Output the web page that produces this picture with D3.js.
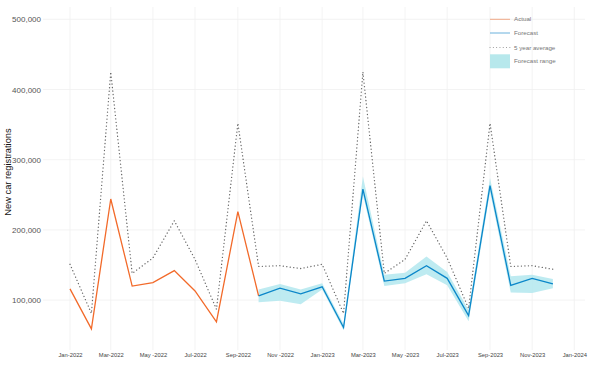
<!DOCTYPE html>
<html>
<head>
<meta charset="utf-8">
<script src="https://cdn.jsdelivr.net/npm/d3@7"></script>
<style>
  body { margin: 0; background: #fff; }
  text { font-family: "Liberation Sans", Arial, sans-serif; }
</style>
</head>
<body>
<div id="chart"></div>
<script>
var width = 602, height = 370;

// monthly data
var actualMonths = ["2022-01","2022-02","2022-03","2022-04","2022-05","2022-06","2022-07","2022-08","2022-09","2022-10"];
var actualValues = [116000, 59000, 244000, 120000, 125000, 142000, 113000, 69000, 226000, 106000];

var forecastMonths = ["2022-10","2022-11","2022-12","2023-01","2023-02","2023-03","2023-04","2023-05","2023-06","2023-07","2023-08","2023-09","2023-10","2023-11","2023-12"];
var forecastValues = [106000, 117000, 109000, 119000, 61000, 258000, 127000, 131000, 149000, 131000, 78000, 263000, 121000, 131000, 123000];
var forecastLower  = [97000, 99000, 94000, 115000, 57000, 250000, 120000, 124000, 137000, 121000, 70000, 254000, 111000, 110000, 117000];
var forecastUpper  = [115000, 123000, 115000, 124000, 66000, 276000, 136000, 139000, 162000, 140000, 86000, 274000, 134000, 136000, 130000];

var avgMonths = ["2022-01","2022-02","2022-03","2022-04","2022-05","2022-06","2022-07","2022-08","2022-09","2022-10","2022-11","2022-12",
                 "2023-01","2023-02","2023-03","2023-04","2023-05","2023-06","2023-07","2023-08","2023-09","2023-10","2023-11","2023-12"];
var avgValues = [151000, 81000, 425000, 138000, 160000, 213000, 158000, 87000, 352000, 148000, 149000, 145000,
                 151000, 81000, 425000, 138000, 158000, 213000, 160000, 88000, 352000, 148000, 149000, 144000];

var yTicks = [100000, 200000, 300000, 400000, 500000];
var xTickMonths = ["2022-01","2022-03","2022-05","2022-07","2022-09","2022-11","2023-01","2023-03","2023-05","2023-07","2023-09","2023-11","2024-01"];
var xTickLabels = ["Jan-2022","Mar-2022","May -2022","Jul-2022","Sep-2022","Nov -2022","Jan-2023","Mar-2023","May -2023","Jul-2023","Sep-2023","Nov-2023","Jan-2024"];

var legendLabels = ["Actual", "Forecast", "5 year average", "Forecast range"];

var parse = d3.timeParse("%Y-%m");

var x = d3.scaleTime()
    .domain([parse("2022-01"), parse("2024-01")])
    .range([70, 574.3]);

var y = d3.scaleLinear()
    .domain([0, 500000])
    .range([370.3, 19.3]);

var svg = d3.select("#chart")
    .append("svg")
    .attr("width", width)
    .attr("height", height);

// grid
var grid = svg.append("g").attr("class", "grid");
grid.selectAll("line.h")
    .data(yTicks)
    .enter()
    .append("line")
    .attr("x1", 43).attr("x2", 585)
    .attr("y1", d => y(d)).attr("y2", d => y(d))
    .style("stroke", "#f0f0f0")
    .style("stroke-width", 0.8);

grid.selectAll("line.v")
    .data(xTickMonths)
    .enter()
    .append("line")
    .attr("x1", d => x(parse(d))).attr("x2", d => x(parse(d)))
    .attr("y1", 7).attr("y2", 350)
    .style("stroke", "#f0f0f0")
    .style("stroke-width", 0.8);

// axes (labels only)
var yAxis = svg.append("g")
    .attr("transform", "translate(43,0)")
    .call(d3.axisLeft(y).tickValues(yTicks).tickSize(0).tickPadding(2).tickFormat(d3.format(",")));
yAxis.select(".domain").remove();
yAxis.selectAll("text")
    .style("font-size", "8px")
    .style("fill", "#555");

var xAxis = svg.append("g")
    .attr("transform", "translate(0,350)")
    .call(d3.axisBottom(x).tickValues(xTickMonths.map(parse)).tickSize(0).tickPadding(3)
      .tickFormat((d, i) => xTickLabels[i]));
xAxis.select(".domain").remove();
xAxis.selectAll("text")
    .style("font-size", "5.8px")
    .style("fill", "#444");

svg.append("text")
    .attr("transform", "translate(11,172) rotate(-90)")
    .attr("text-anchor", "middle")
    .style("font-size", "9.3px")
    .style("fill", "#111")
    .text("New car registrations");

// forecast ribbon
var fcData = forecastMonths.map((m, i) => ({ date: parse(m), v: forecastValues[i], lo: forecastLower[i], hi: forecastUpper[i] }));

svg.append("path")
    .datum(fcData)
    .attr("d", d3.area().x(d => x(d.date)).y0(d => y(d.lo)).y1(d => y(d.hi)))
    .style("fill", "#b3e8ee")
    .style("opacity", 0.85);

// 5 year average
var avgData = avgMonths.map((m, i) => ({ date: parse(m), v: avgValues[i] }));
var line = d3.line().x(d => x(d.date)).y(d => y(d.v));

svg.append("path")
    .datum(avgData)
    .attr("d", line)
    .style("fill", "none")
    .style("stroke", "#666")
    .style("stroke-width", 1.3)
    .style("stroke-linecap", "round")
    .style("stroke-dasharray", "0.1,3.4");

// actual
var actData = actualMonths.map((m, i) => ({ date: parse(m), v: actualValues[i] }));
svg.append("path")
    .datum(actData)
    .attr("d", line)
    .style("fill", "none")
    .style("stroke", "#f26a2a")
    .style("stroke-width", 1.3);

// forecast
svg.append("path")
    .datum(fcData)
    .attr("d", line)
    .style("fill", "none")
    .style("stroke", "#0a86c9")
    .style("stroke-width", 1.3);

// legend
var legend = svg.append("g").attr("transform", "translate(490,0)");
var legendY = [19.3, 33, 47.5, 61];

legend.append("line").attr("x1", 0).attr("x2", 20).attr("y1", legendY[0]).attr("y2", legendY[0])
    .style("stroke", "#f0a07a").style("stroke-width", 0.9);
legend.append("line").attr("x1", 0).attr("x2", 20).attr("y1", legendY[1]).attr("y2", legendY[1])
    .style("stroke", "#5aa8d8").style("stroke-width", 0.9);
legend.append("line").attr("x1", 0).attr("x2", 20).attr("y1", legendY[2]).attr("y2", legendY[2])
    .style("stroke", "#888").style("stroke-width", 0.9)
    .style("stroke-linecap", "round").style("stroke-dasharray", "0.1,3.2");
legend.append("rect").attr("x", 0).attr("y", 54.3).attr("width", 20).attr("height", 14)
    .style("fill", "#b7e8ec");

legend.selectAll("text.lab")
    .data(legendLabels)
    .enter()
    .append("text")
    .attr("x", 24)
    .attr("y", (d, i) => legendY[i])
    .attr("dy", "0.35em")
    .style("font-size", "6.2px")
    .style("fill", "#777")
    .text(d => d);
</script>
</body>
</html>
